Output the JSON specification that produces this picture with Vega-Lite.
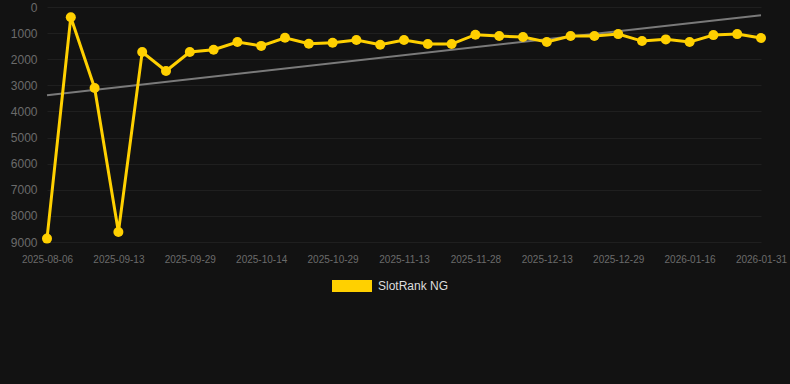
{
  "$schema": "https://vega.github.io/schema/vega-lite/v6.json",
  "autosize": "none",
  "width": 714,
  "height": 235,
  "padding": {"left": 47, "top": 7, "right": 29, "bottom": 142},
  "background": "#121212",
  "config": {
    "view": {"stroke": null},
    "font": "Liberation Sans",
    "axis": {"domain": false, "ticks": false, "gridColor": "#1f1f1f", "gridWidth": 1, "labelColor": "#6b6b6b", "labelFont": "Liberation Sans"}
  },
  "datasets": {
    "main": [
      {"date": "2025-08-06", "rank": 8870},
      {"date": "2025-08-19", "rank": 390},
      {"date": "2025-08-31", "rank": 3100},
      {"date": "2025-09-13", "rank": 8620},
      {"date": "2025-09-18", "rank": 1725},
      {"date": "2025-09-24", "rank": 2450},
      {"date": "2025-09-29", "rank": 1725},
      {"date": "2025-10-04", "rank": 1635},
      {"date": "2025-10-09", "rank": 1343},
      {"date": "2025-10-14", "rank": 1490},
      {"date": "2025-10-19", "rank": 1177},
      {"date": "2025-10-24", "rank": 1405},
      {"date": "2025-10-29", "rank": 1367},
      {"date": "2025-11-03", "rank": 1267},
      {"date": "2025-11-08", "rank": 1443},
      {"date": "2025-11-13", "rank": 1267},
      {"date": "2025-11-18", "rank": 1420},
      {"date": "2025-11-23", "rank": 1420},
      {"date": "2025-11-28", "rank": 1061},
      {"date": "2025-12-03", "rank": 1114},
      {"date": "2025-12-08", "rank": 1152},
      {"date": "2025-12-13", "rank": 1343},
      {"date": "2025-12-18", "rank": 1114},
      {"date": "2025-12-23", "rank": 1114},
      {"date": "2025-12-29", "rank": 1038},
      {"date": "2026-01-04", "rank": 1305},
      {"date": "2026-01-10", "rank": 1240},
      {"date": "2026-01-16", "rank": 1343},
      {"date": "2026-01-21", "rank": 1076},
      {"date": "2026-01-26", "rank": 1038},
      {"date": "2026-01-31", "rank": 1190}
    ],
    "trend": [
      {"date": "2025-08-06", "rank": 3378},
      {"date": "2026-01-31", "rank": 313}
    ]
  },
  "encoding": {
    "x": {
      "field": "date", "type": "ordinal",
      "scale": {"type": "point", "padding": 0},
      "axis": {
        "title": null, "labelAngle": 0, "labelFontSize": 10, "labelPadding": 12,
        "values": ["2025-08-06", "2025-09-13", "2025-09-29", "2025-10-14", "2025-10-29", "2025-11-13", "2025-11-28", "2025-12-13", "2025-12-29", "2026-01-16", "2026-01-31"]
      }
    },
    "y": {
      "field": "rank", "type": "quantitative",
      "scale": {"domain": [0, 9000], "reverse": true, "nice": false},
      "axis": {"title": null, "format": "d", "values": [0, 1000, 2000, 3000, 4000, 5000, 6000, 7000, 8000, 9000], "labelFontSize": 12, "labelPadding": 10}
    }
  },
  "layer": [
    {
      "data": {"name": "trend"},
      "mark": {"type": "line", "color": "#7a7a7a", "strokeWidth": 2}
    },
    {
      "data": {"name": "main"},
      "mark": {"type": "line", "strokeWidth": 3, "point": {"filled": true, "size": 100, "opacity": 1}},
      "encoding": {
        "color": {
          "datum": "SlotRank NG",
          "scale": {"range": ["#FFD000"]},
          "legend": {
            "title": null, "orient": "none", "legendX": 285, "legendY": 259,
            "symbolType": "M-1,-0.3H1V0.3H-1Z", "symbolSize": 1600, "symbolStrokeWidth": 0,
            "symbolFillColor": "#FFD000",
            "labelColor": "#dddddd", "labelFontSize": 12, "labelFont": "Liberation Sans", "labelOffset": 6
          }
        }
      }
    }
  ]
}
